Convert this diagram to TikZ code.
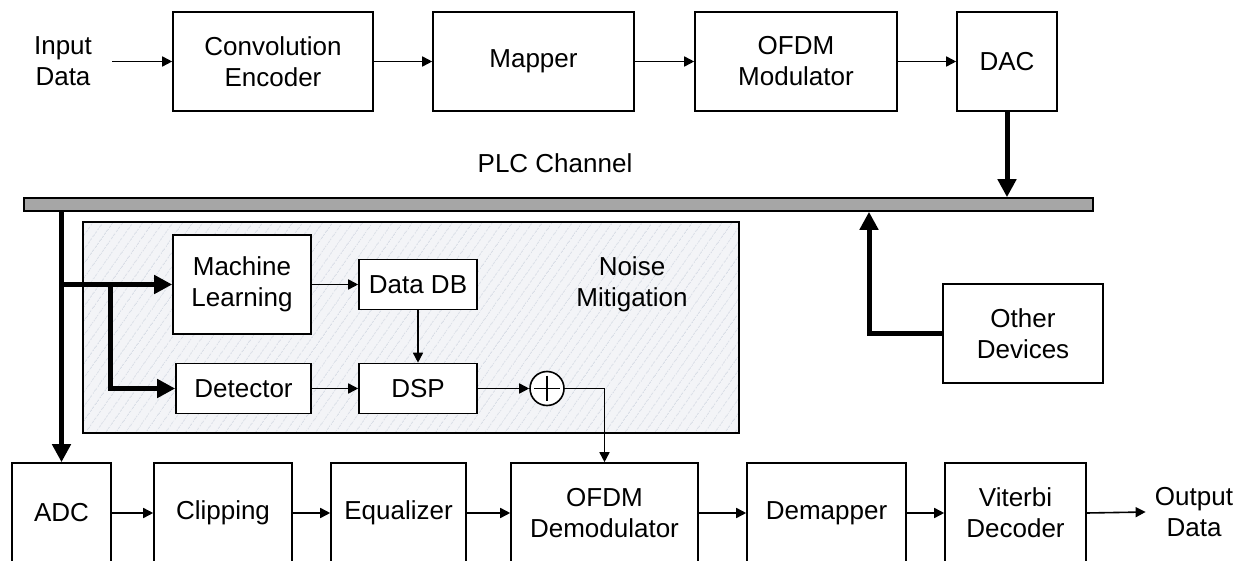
\documentclass[tikz,border=0pt]{standalone}
\usepackage{fontspec}
\setmainfont{Liberation Sans}
\usetikzlibrary{arrows.meta,patterns.meta}
\definecolor{busgray}{RGB}{166,166,166}
\definecolor{noisefill}{RGB}{243,244,247}
\definecolor{hatch}{RGB}{216,221,230}
\tikzset{
  lbl/.style={font=\fontsize{13}{15.5}\selectfont, align=center},
  box/.style={lbl, draw, fill=white, line width=0.8pt, inner sep=2pt},
  tag/.style={lbl, inner sep=0pt},
  wire/.style={line width=0.8pt, -{Triangle[length=5pt,width=5pt]}},
  bus/.style={line width=2.5pt, -{Triangle[length=9pt,width=9pt]}},
  adder/.style={circle, draw, fill=white, line width=0.8pt, inner sep=0pt, minimum size=17pt}
}
\begin{document}
\begin{tikzpicture}[x=0.5pt,y=-0.5pt]
  \clip (0,0) rectangle (1242,561);
  % transmitter
  \node[tag] (input) at (63,61.5) {Input\\Data};
  \node[box, minimum width=100pt, minimum height=49.5pt] (conv) at (273,61.5) {Convolution\\Encoder};
  \node[box, minimum width=100.5pt, minimum height=49.5pt] (mapper) at (533.5,61.5) {Mapper};
  \node[box, minimum width=101pt, minimum height=49.5pt] (ofdmmod) at (796,61.5) {OFDM\\Modulator};
  \node[box, minimum width=50pt, minimum height=49.5pt] (dac) at (1007,61.5) {DAC};
  \draw[wire] ([xshift=10pt]input.east) -- (conv.west);
  \foreach \a/\b in {conv/mapper, mapper/ofdmmod, ofdmmod/dac}
    \draw[wire] (\a) -- (\b);
  % channel
  \node[tag] (plc) at (555,163) {PLC Channel};
  \node[draw, fill=busgray, line width=0.8pt, inner sep=0pt, minimum width=534.5pt, minimum height=6.5pt] (bar) at (558.5,204.5) {};
  \draw[bus] (dac.south) -- (dac.south |- bar.north);
  \node[box, minimum width=80pt, minimum height=49.5pt] (other) at (1023,333.5) {Other\\Devices};
  \coordinate (tap) at (869,211);
  \draw[bus] (other.west) -| (tap |- bar.south);
  % noise mitigation
  \node[draw, line width=0.8pt, minimum width=328pt, minimum height=105.5pt, preaction={fill=noisefill},
        pattern={Lines[angle=55,distance=4pt,line width=0.45pt]}, pattern color=hatch] (noise) at (411,327.5) {};
  \node[tag] (nm) at (632,284) {Noise\\Mitigation};
  \node[box, minimum width=69pt, minimum height=49.5pt] (ml) at (242,284.5) {Machine\\Learning};
  \node[box, minimum width=59pt, minimum height=25pt] (datadb) at (418,284.5) {Data DB};
  \node[box, minimum width=67.5pt, minimum height=25pt] (detector) at (243.5,388.5) {Detector};
  \node[box, minimum width=59pt, minimum height=25pt] (dsp) at (418,388.5) {DSP};
  \node[adder] (sum) at (547,388.5) {};
  \draw[line width=0.8pt] ([xshift=2.5pt]sum.west) -- ([xshift=-2.5pt]sum.east)
    ([yshift=-2.5pt]sum.north) -- ([yshift=2.5pt]sum.south);
  \draw[wire] (ml.east) -- (datadb.west);
  \draw[wire] (datadb.south) -- (dsp.north);
  \draw[wire] (detector.east) -- (dsp.west);
  \draw[wire] (dsp.east) -- (sum.west);
  % receiver
  \node[box, minimum width=49.5pt, minimum height=50pt] (adc) at (61.5,513) {ADC};
  \node[box, minimum width=69pt, minimum height=50pt] (clipping) at (223,513) {Clipping};
  \node[box, minimum width=67.5pt, minimum height=50pt] (eq) at (398.5,513) {Equalizer};
  \node[box, minimum width=93.5pt, minimum height=50pt] (ofdmdemod) at (604.5,513) {OFDM\\Demodulator};
  \node[box, minimum width=79.5pt, minimum height=50pt] (demap) at (826.5,513) {Demapper};
  \node[box, minimum width=70.5pt, minimum height=50pt] (viterbi) at (1015.5,513) {Viterbi\\Decoder};
  \node[tag] (output) at (1194,512) {Output\\Data};
  \foreach \a/\b in {adc/clipping, clipping/eq, eq/ofdmdemod, ofdmdemod/demap, demap/viterbi}
    \draw[wire] (\a) -- (\b);
  \draw[wire] (viterbi.east) -- ([xshift=-4.5pt]output.west);
  \draw[wire] (sum.east) -| (ofdmdemod.north);
  % taps off the channel
  \coordinate (split) at (110,284.5);
  \draw[bus] (adc.north |- bar.south) -- (adc.north);
  \draw[bus] (adc.north |- ml.west) -- (ml.west);
  \draw[bus] (split) |- (detector.west);
\end{tikzpicture}
\end{document}
